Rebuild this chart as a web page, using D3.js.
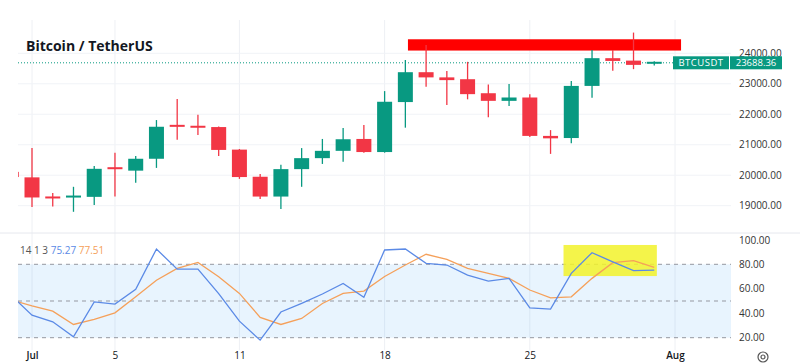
<!DOCTYPE html>
<html>
<head>
<meta charset="utf-8">
<script src="https://cdn.jsdelivr.net/npm/d3@7"></script>
<style>
  body { margin: 0; background: #fff; }
  svg { display: block; font-family: "Open Sans", sans-serif; }
</style>
</head>
<body>
<svg id="chart" width="800" height="363"></svg>
<script>
// daily candles, BTC / USDT
const dates  = ["2022-06-30","2022-07-01","2022-07-02","2022-07-03","2022-07-04","2022-07-05","2022-07-06","2022-07-07",
                "2022-07-08","2022-07-09","2022-07-10","2022-07-11","2022-07-12","2022-07-13","2022-07-14","2022-07-15",
                "2022-07-16","2022-07-17","2022-07-18","2022-07-19","2022-07-20","2022-07-21","2022-07-22","2022-07-23",
                "2022-07-24","2022-07-25","2022-07-26","2022-07-27","2022-07-28","2022-07-29","2022-07-30","2022-07-31"];
const opens  = [20110,19930,19270,19250,19290,20230,20150,20540,21620,21590,21580,20840,19950,19300,20200,20560,
                20800,21190,20760,22400,23380,23210,23150,22690,22440,22550,21290,21220,22930,23840,23760,23640];
const highs  = [20180,20890,19420,19620,20300,20740,20630,21810,22500,21980,21600,20860,20040,20340,20890,21190,
                21550,21650,22760,23780,24270,23420,23720,22980,22990,22660,21480,23090,24110,24110,24680,23740];
const lows   = [18630,18960,18970,18800,19020,19300,19750,20240,21160,21320,20630,19880,19220,18890,19620,20370,
                20440,20740,20740,21560,22900,22300,22490,21900,22270,21250,20700,21050,22540,23430,23480,23600];
const closes = [19940,19270,19250,19300,20210,20180,20540,21590,21590,21570,20830,19940,19300,20200,20560,20800,
                21180,20760,22410,23380,23210,23120,22660,22440,22550,21290,21210,22930,23840,23750,23620,23688.36];

// stochastic 14 1 3
const stochK = [54.6,38.4,33.0,20.7,49.3,47.5,59.5,92.5,76.0,76.0,56.0,33.5,18.0,41.0,48.0,55.7,
                64.4,53.0,91.7,92.5,80.8,79.4,71.2,66.3,68.5,44.4,43.4,72.6,89.5,82.0,74.8,75.27];
const stochD = [50.9,46.0,41.7,30.8,35.0,40.3,53.4,67.0,76.7,81.6,69.8,56.2,36.6,30.8,35.7,48.0,
                56.2,58.1,70.0,79.4,88.2,84.0,76.7,72.6,68.5,59.0,52.6,53.4,68.5,81.3,83.0,77.51];

const priceTicks = [19000, 20000, 21000, 22000, 23000, 24000];
const stochTicks = [20, 40, 60, 80, 100];
const stochLevels = [20, 50, 80];
const timeTicks  = ["2022-07-01","2022-07-05","2022-07-11","2022-07-18","2022-07-25","2022-08-01"];
const timeLabels = ["Jul","5","11","18","25","Aug"];
const lastPrice = 23688.36;
const symbol = "BTCUSDT";
const title = "Bitcoin / TetherUS";
const legendParams = "14 1 3";

// drawings on the chart (time / value units)
const redZone    = { from: "2022-07-19T03:00", to: "2022-08-01T07:00", lo: 24090, hi: 24460 };
const yellowZone = { from: "2022-07-26T15:00", to: "2022-07-31T03:00", lo: 70.4, hi: 95.8 };

const up = "#089981", down = "#f23645";
const kColor = "#5b8ae6", dColor = "#f5a05a";

const svg = d3.select("#chart");
const W = +svg.attr("width"), H = +svg.attr("height");
const plotL = 18, plotR = 731;

const parse = d3.utcParse("%Y-%m-%d");
const parseT = d3.utcParse("%Y-%m-%dT%H:%M");
const candles = dates.map((d, i) => ({ t: parse(d), o: opens[i], h: highs[i], l: lows[i], c: closes[i], k: stochK[i], d: stochD[i] }));

const x = d3.scaleUtc().domain([parse("2022-07-01"), parse("2022-08-01")]).range([32, 675]);
const y = d3.scaleLinear().domain([19000, 24000]).range([205.7, 53.3]);
const ys = d3.scaleLinear().domain([20, 80]).range([337.7, 264.3]);

const defs = svg.append("defs");
defs.append("clipPath").attr("id", "clipMain").append("rect")
  .attr("x", plotL).attr("y", 20).attr("width", plotR - plotL).attr("height", 212);
defs.append("clipPath").attr("id", "clipStoch").append("rect")
  .attr("x", plotL).attr("y", 234).attr("width", plotR - plotL).attr("height", 116);

// grid
const grid = svg.append("g");
grid.selectAll(".vg").data(timeTicks).join("line")
  .attr("x1", d => x(parse(d))).attr("x2", d => x(parse(d)))
  .attr("y1", 20).attr("y2", 350)
  .attr("stroke", "#eef0f4").attr("stroke-width", 1);
grid.selectAll(".hg").data(priceTicks).join("line")
  .attr("x1", plotL).attr("x2", plotR)
  .attr("y1", d => y(d)).attr("y2", d => y(d))
  .attr("stroke", "#f1f3f7");

// pane separator
svg.append("line").attr("x1", 0).attr("x2", W).attr("y1", 233).attr("y2", 233)
  .attr("stroke", "#e6e8ee");

// title
svg.append("text").attr("x", 26).attr("y", 51)
  .attr("font-size", 14).attr("font-weight", 700).attr("fill", "#131722")
  .text(title);

// ---- main pane
const main = svg.append("g").attr("clip-path", "url(#clipMain)");

main.append("rect")
  .attr("x", x(parseT(redZone.from))).attr("width", x(parseT(redZone.to)) - x(parseT(redZone.from)))
  .attr("y", y(redZone.hi)).attr("height", y(redZone.lo) - y(redZone.hi))
  .attr("fill", "#ff0000");

main.append("line")
  .attr("x1", plotL).attr("x2", 673)
  .attr("y1", y(lastPrice)).attr("y2", y(lastPrice))
  .attr("stroke", up).attr("stroke-width", 1).attr("stroke-dasharray", "1,2");

const bw = 15;
const cg = main.selectAll(".candle").data(candles).join("g")
  .attr("fill", d => d.c >= d.o ? up : down)
  .attr("stroke", d => d.c >= d.o ? up : down);
cg.append("line")
  .attr("x1", d => x(d.t)).attr("x2", d => x(d.t))
  .attr("y1", d => y(d.h)).attr("y2", d => y(d.l))
  .attr("stroke-width", 1.3);
cg.append("rect")
  .attr("x", d => x(d.t) - bw / 2).attr("width", bw)
  .attr("y", d => Math.min(y(d.o), y(d.c)) - (Math.abs(y(d.o) - y(d.c)) < 2 ? 1 : 0))
  .attr("height", d => Math.max(2, Math.abs(y(d.o) - y(d.c))))
  .attr("stroke", "none");

// price axis
const yAxis = svg.append("g").attr("transform", `translate(736,0)`)
  .call(d3.axisRight(y).tickValues(priceTicks).tickFormat(d3.format(".2f")).tickSize(0));
yAxis.select(".domain").remove();
yAxis.selectAll("text").attr("font-size", 10).attr("fill", "#333").attr("font-family", "Open Sans");

// last price label
const ly = y(lastPrice);
svg.append("rect").attr("x", 673).attr("y", ly - 6.5).attr("width", 56).attr("height", 13).attr("fill", up);
svg.append("rect").attr("x", 730).attr("y", ly - 6.5).attr("width", 52).attr("height", 13).attr("fill", up);
svg.append("text").attr("x", 701).attr("y", ly + 3.5).attr("text-anchor", "middle")
  .attr("font-size", 9.5).attr("fill", "#fff").attr("letter-spacing", 0.5).text(symbol);
svg.append("text").attr("x", 756).attr("y", ly + 3.5).attr("text-anchor", "middle")
  .attr("font-size", 9.5).attr("fill", "#fff").text(d3.format(".2f")(lastPrice));

// ---- stochastic pane
const st = svg.append("g").attr("clip-path", "url(#clipStoch)");
st.append("rect")
  .attr("x", plotL).attr("width", plotR - plotL)
  .attr("y", ys(80)).attr("height", ys(20) - ys(80))
  .attr("fill", "#2196f3").attr("fill-opacity", 0.1);
st.selectAll(".lvl").data(stochLevels).join("line")
  .attr("x1", plotL).attr("x2", plotR)
  .attr("y1", d => ys(d)).attr("y2", d => ys(d))
  .attr("stroke", "#9598a1").attr("stroke-dasharray", "4,4").attr("stroke-width", 1);

st.append("rect")
  .attr("x", x(parseT(yellowZone.from))).attr("width", x(parseT(yellowZone.to)) - x(parseT(yellowZone.from)))
  .attr("y", ys(yellowZone.hi)).attr("height", ys(yellowZone.lo) - ys(yellowZone.hi))
  .attr("fill", "#f2f22a").attr("fill-opacity", 0.85);

const lineK = d3.line().x(d => x(d.t)).y(d => ys(d.k));
const lineD = d3.line().x(d => x(d.t)).y(d => ys(d.d));
st.append("path").datum(candles).attr("d", lineD).attr("fill", "none").attr("stroke", dColor).attr("stroke-width", 1.3);
st.append("path").datum(candles).attr("d", lineK).attr("fill", "none").attr("stroke", kColor).attr("stroke-width", 1.3);

// legend
const leg = svg.append("text").attr("x", 20).attr("y", 254).attr("font-size", 10);
leg.append("tspan").attr("fill", "#555").text(legendParams + " ");
leg.append("tspan").attr("fill", kColor).text(d3.format(".2f")(stochK[stochK.length - 1]) + " ");
leg.append("tspan").attr("fill", dColor).text(d3.format(".2f")(stochD[stochD.length - 1]));

const sAxis = svg.append("g").attr("transform", `translate(736,0)`)
  .call(d3.axisRight(ys).tickValues(stochTicks).tickFormat(d3.format(".2f")).tickSize(0));
sAxis.select(".domain").remove();
sAxis.selectAll("text").attr("font-size", 10).attr("fill", "#333").attr("font-family", "Open Sans");

// time axis
const xAxis = svg.append("g").attr("transform", `translate(0,349)`)
  .call(d3.axisBottom(x).tickValues(timeTicks.map(parse)).tickFormat((d, i) => timeLabels[i]).tickSize(0));
xAxis.select(".domain").remove();
xAxis.selectAll("text").attr("font-size", 10).attr("fill", "#131722").attr("font-family", "Open Sans")
  .attr("font-weight", (d, i) => (i === 0 || i === timeLabels.length - 1) ? 600 : 400);

// settings gear
const gear = svg.append("g").attr("transform", "translate(763,357)")
  .attr("fill", "none").attr("stroke", "#555").attr("stroke-width", 1.2);
gear.append("circle").attr("r", 5);
gear.append("circle").attr("r", 2);
</script>
</body>
</html>
